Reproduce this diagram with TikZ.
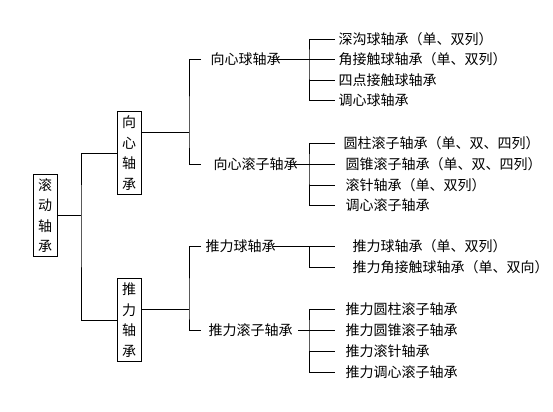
\documentclass[tikz,border=0pt]{standalone}
\usepackage{fontspec}
\setmainfont{Noto Sans CJK SC}
\usetikzlibrary{calc}
\begin{document}
\begin{tikzpicture}[x=0.75pt,y=-0.75pt,line width=0.75pt,
  vbox/.style={draw,minimum width=18pt,minimum height=62pt,inner sep=0pt,align=center,
    font=\fontsize{10.5pt}{15.4pt}\selectfont},
  lbl/.style={anchor=west,inner sep=0pt,font=\fontsize{10.5pt}{12pt}\selectfont}]
\useasboundingbox (0,0) rectangle (553,411);
% boxes
\node[vbox] (root) at (45,215.5) {滚\\动\\轴\\承};
\node[vbox] (rad) at (129,153) {向\\心\\轴\\承};
\node[vbox] (thr) at (129,320) {推\\力\\轴\\承};
\coordinate (j0) at (81,215.5);
\draw (root.east) -- (j0);
\draw (rad.west) -| (j0) |- (thr.west);
% end x of leaf lines
\coordinate (e) at (335,0);
% radial
\coordinate (j1) at (189,132);
\draw (j1 -| rad.east) -- (j1);
\node[lbl] (rb) at (210,59) {向心球轴承};
\node[lbl] (rr) at (213,164) {向心滚子轴承};
\draw ($(rb.west)+(-9,0)$) -| (j1) |- ($(rr.west)+(-12,0)$);
% radial ball leaves
\coordinate (k1) at (309,59);
\node[lbl] (l1) at (338,39) {深沟球轴承（单、双列）};
\node[lbl] (l2) at (338,59) {角接触球轴承（单、双列）};
\node[lbl] (l3) at (338,80) {四点接触球轴承};
\node[lbl] (l4) at (338,100) {调心球轴承};
\draw ($(rb.east)+(-8,0)$) -- (l2.west -| e);
\draw (l1.west -| e) -| (k1) |- (l4.west -| e);
\draw (l3.west -| k1) -- (l3.west -| e);
% radial roller leaves
\coordinate (k2) at (309,164);
\node[lbl] (l5) at (343,143) {圆柱滚子轴承（单、双、四列）};
\node[lbl] (l6) at (345,164) {圆锥滚子轴承（单、双、四列）};
\node[lbl] (l7) at (345,185) {滚针轴承（单、双列）};
\node[lbl] (l8) at (345,205) {调心滚子轴承};
\draw ($(rr.east)+(-7,0)$) -- (l6.west -| e);
\draw (l5.west -| e) -| (k2) |- (l8.west -| e);
\draw (l7.west -| k2) -- (l7.west -| e);
% thrust
\coordinate (j2) at (189,309);
\draw (j2 -| thr.east) -- (j2);
\node[lbl] (tb) at (205,246) {推力球轴承};
\node[lbl] (tr) at (208,330) {推力滚子轴承};
\draw ($(tb.west)+(-4,0)$) -| (j2) |- ($(tr.west)+(-7,0)$);
% thrust ball leaves
\coordinate (k3) at (309,246);
\node[lbl] (l9) at (352,246) {推力球轴承（单、双列）};
\node[lbl] (l10) at (352,267) {推力角接触球轴承（单、双向）};
\draw ($(tb.east)+(-3,0)$) -- (l9.west -| e);
\draw (k3) |- (l10.west -| e);
% thrust roller leaves
\coordinate (k4) at (309,330);
\node[lbl] (l11) at (345,309) {推力圆柱滚子轴承};
\node[lbl] (l12) at (345,330) {推力圆锥滚子轴承};
\node[lbl] (l13) at (345,351) {推力滚针轴承};
\node[lbl] (l14) at (345,372) {推力调心滚子轴承};
\draw ($(tr.east)+(5,0)$) -- (l12.west -| e);
\draw (l11.west -| e) -| (k4) |- (l14.west -| e);
\draw (l13.west -| k4) -- (l13.west -| e);
\end{tikzpicture}
\end{document}
